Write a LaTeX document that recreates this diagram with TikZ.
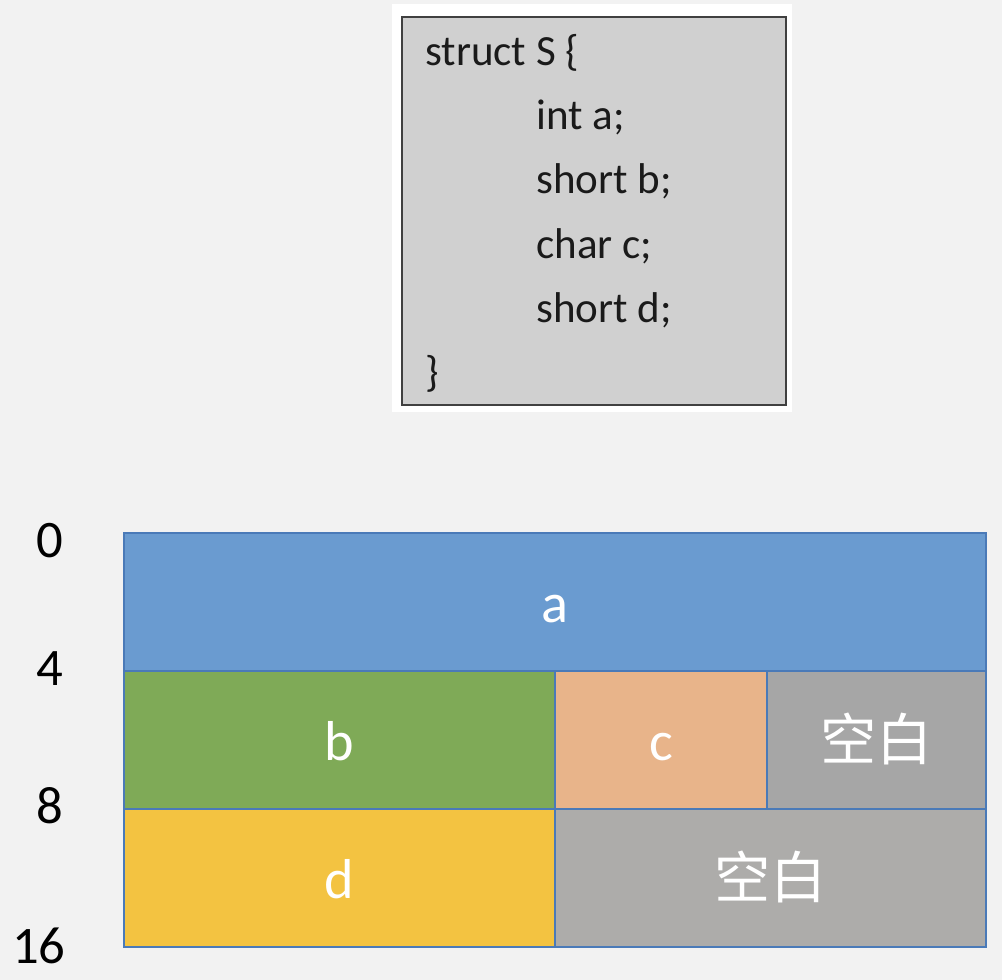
\documentclass[tikz,border=0pt]{standalone}
\usepackage{fontspec}
\setmainfont{Carlito}
\newfontfamily\cjk{Noto Sans CJK SC}
\usetikzlibrary{positioning}

\definecolor{pagebg}{HTML}{F2F2F2}
\definecolor{codefill}{HTML}{D0D0D0}
\definecolor{codeline}{HTML}{404040}
\definecolor{codetext}{HTML}{1A1A1A}
\definecolor{cellline}{HTML}{4A7AB8}
\definecolor{fillA}{HTML}{6A9BD0}
\definecolor{fillB}{HTML}{7FAA57}
\definecolor{fillC}{HTML}{E8B48A}
\definecolor{fillD}{HTML}{F3C341}
\definecolor{fillPad}{HTML}{A6A6A6}
\definecolor{fillPadB}{HTML}{ADACAA}

\tikzset{
  codeln/.style={anchor=base west, inner sep=0pt, text=codetext,
    font=\fontsize{24.5}{29}\selectfont},
  offset/.style={anchor=base east, inner sep=0pt, text=black,
    font=\fontsize{30}{36}\selectfont},
  cell/.style={draw=cellline, line width=1.5pt, text=white, anchor=north west,
    minimum height=2.76cm, inner sep=0pt, outer sep=0pt,
    text height=23pt, text depth=0pt,
    font=\fontsize{32}{38}\selectfont},
}

\begin{document}
\begin{tikzpicture}[x=0.02cm, y=-0.02cm]
	% Background
	\fill[pagebg] (0,0) rectangle (1002,980);
	\useasboundingbox (0,0) rectangle (1002,980);
	
	% Code box
	\fill[white] (392,4) rectangle (792,412);
	\draw[codeline, fill=codefill, line width=1.4pt] (402,17) rectangle (786,405);
	\node[codeln] (l1) at (425,66) {struct S \{};
	\node[codeln] (l2) at (536,130) {int a;};
	\node[codeln] (l3) at (536,194) {short b;};
	\node[codeln] (l4) at (536,258) {char c;};
	\node[codeln] (l5) at (536,322) {short d;};
	\node[codeln] (l6) at (425,386) {\}};
	
	% Define nodes
	\node[cell, fill=fillA, minimum width=17.24cm] (a) at (124,533) {a};
	\node[cell, fill=fillB, minimum width=8.62cm] (b) at (a.south west) {b};
	\node[cell, fill=fillC, minimum width=4.24cm] (c) at (b.north east) {c};
	\node[cell, fill=fillPad, minimum width=4.38cm] (pad1) at (c.north east) {\cjk 空白};
	\node[cell, fill=fillD, minimum width=8.62cm] (d) at (b.south west) {d};
	\node[cell, fill=fillPadB, minimum width=8.62cm] (pad2) at (d.north east) {\cjk 空白};
	
	% Offsets
	\node[offset] (o0) at (64,557) {0};
	\node[offset] (o4) at (64,685) {4};
	\node[offset] (o8) at (64,823) {8};
	\node[offset] (o16) at (66,963) {16};
\end{tikzpicture}
\end{document}
